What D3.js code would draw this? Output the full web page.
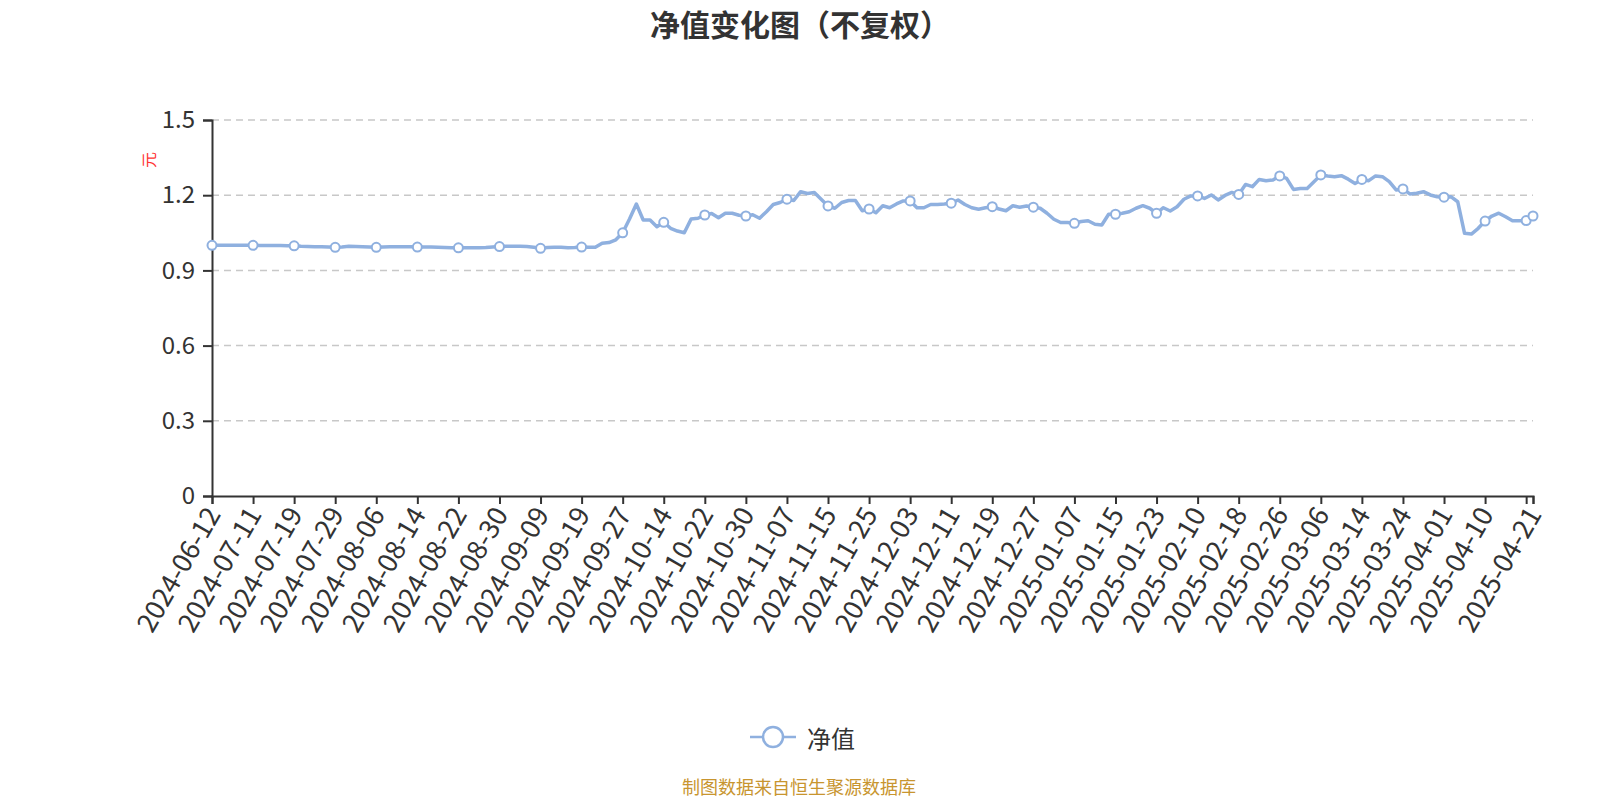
<!DOCTYPE html>
<html>
<head>
<meta charset="utf-8">
<script src="https://cdn.jsdelivr.net/npm/d3@7/dist/d3.min.js"></script>
<style>
  html, body { margin: 0; padding: 0; background: #fff; }
  svg { display: block; }
  text { font-family: "Noto Sans CJK SC", "Noto Sans", sans-serif; }
</style>
</head>
<body>
<svg id="chart" width="1600" height="800"></svg>
<script>
const dates = [
"2024-06-12","2024-06-14","2024-06-21","2024-06-28","2024-07-05","2024-07-10","2024-07-11","2024-07-12","2024-07-15","2024-07-16",
"2024-07-17","2024-07-18","2024-07-19","2024-07-22","2024-07-23","2024-07-24","2024-07-25","2024-07-26","2024-07-29","2024-07-30",
"2024-07-31","2024-08-01","2024-08-02","2024-08-05","2024-08-06","2024-08-07","2024-08-08","2024-08-09","2024-08-12","2024-08-13",
"2024-08-14","2024-08-15","2024-08-16","2024-08-19","2024-08-20","2024-08-21","2024-08-22","2024-08-23","2024-08-26","2024-08-27",
"2024-08-28","2024-08-29","2024-08-30","2024-09-02","2024-09-03","2024-09-04","2024-09-05","2024-09-06","2024-09-09","2024-09-10",
"2024-09-11","2024-09-12","2024-09-13","2024-09-18","2024-09-19","2024-09-20","2024-09-23","2024-09-24","2024-09-25","2024-09-26",
"2024-09-27","2024-09-30","2024-10-08","2024-10-09","2024-10-10","2024-10-11","2024-10-14","2024-10-15","2024-10-16","2024-10-17",
"2024-10-18","2024-10-21","2024-10-22","2024-10-23","2024-10-24","2024-10-25","2024-10-28","2024-10-29","2024-10-30","2024-10-31",
"2024-11-01","2024-11-04","2024-11-05","2024-11-06","2024-11-07","2024-11-08","2024-11-11","2024-11-12","2024-11-13","2024-11-14",
"2024-11-15","2024-11-18","2024-11-19","2024-11-20","2024-11-21","2024-11-22","2024-11-25","2024-11-26","2024-11-27","2024-11-28",
"2024-11-29","2024-12-02","2024-12-03","2024-12-04","2024-12-05","2024-12-06","2024-12-09","2024-12-10","2024-12-11","2024-12-12",
"2024-12-13","2024-12-16","2024-12-17","2024-12-18","2024-12-19","2024-12-20","2024-12-23","2024-12-24","2024-12-25","2024-12-26",
"2024-12-27","2024-12-30","2024-12-31","2025-01-02","2025-01-03","2025-01-06","2025-01-07","2025-01-08","2025-01-09","2025-01-10",
"2025-01-13","2025-01-14","2025-01-15","2025-01-16","2025-01-17","2025-01-20","2025-01-21","2025-01-22","2025-01-23","2025-01-24",
"2025-01-27","2025-02-05","2025-02-06","2025-02-07","2025-02-10","2025-02-11","2025-02-12","2025-02-13","2025-02-14","2025-02-17",
"2025-02-18","2025-02-19","2025-02-20","2025-02-21","2025-02-24","2025-02-25","2025-02-26","2025-02-27","2025-02-28","2025-03-03",
"2025-03-04","2025-03-05","2025-03-06","2025-03-07","2025-03-10","2025-03-11","2025-03-12","2025-03-13","2025-03-14","2025-03-17",
"2025-03-18","2025-03-19","2025-03-20","2025-03-21","2025-03-24","2025-03-25","2025-03-26","2025-03-27","2025-03-28","2025-03-31",
"2025-04-01","2025-04-02","2025-04-03","2025-04-07","2025-04-08","2025-04-09","2025-04-10","2025-04-11","2025-04-14","2025-04-15",
"2025-04-16","2025-04-17","2025-04-18","2025-04-21"
];

const nav = [
1.000,1.000,1.000,1.000,1.000,1.000,1.000,0.999,0.999,0.999,
0.999,0.998,0.998,0.996,0.995,0.994,0.994,0.993,0.992,0.993,
0.996,0.995,0.994,0.993,0.992,0.993,0.994,0.994,0.994,0.994,
0.993,0.993,0.993,0.992,0.991,0.990,0.990,0.990,0.990,0.990,
0.991,0.993,0.995,0.996,0.996,0.996,0.995,0.992,0.988,0.991,
0.992,0.992,0.990,0.991,0.993,0.992,0.992,1.008,1.011,1.022,
1.050,1.105,1.165,1.101,1.101,1.074,1.092,1.068,1.057,1.050,
1.105,1.108,1.121,1.127,1.110,1.128,1.128,1.120,1.117,1.122,
1.108,1.134,1.163,1.171,1.184,1.179,1.214,1.207,1.211,1.184,
1.157,1.148,1.171,1.179,1.179,1.138,1.145,1.130,1.158,1.150,
1.165,1.177,1.177,1.150,1.150,1.163,1.163,1.165,1.168,1.181,
1.163,1.150,1.144,1.150,1.154,1.145,1.138,1.158,1.152,1.157,
1.152,1.148,1.128,1.104,1.091,1.091,1.088,1.095,1.098,1.084,
1.081,1.124,1.124,1.128,1.134,1.148,1.158,1.148,1.128,1.150,
1.137,1.154,1.184,1.197,1.197,1.187,1.201,1.181,1.199,1.211,
1.203,1.243,1.234,1.263,1.258,1.261,1.277,1.267,1.223,1.227,
1.227,1.254,1.281,1.277,1.274,1.278,1.264,1.247,1.263,1.258,
1.277,1.274,1.254,1.221,1.225,1.205,1.208,1.214,1.201,1.194,
1.192,1.194,1.174,1.048,1.045,1.068,1.097,1.117,1.128,1.114,
1.098,1.098,1.099,1.117
];

const yTicks = [0, 0.3, 0.6, 0.9, 1.2, 1.5];
const yTickLabels = ["0", "0.3", "0.6", "0.9", "1.2", "1.5"];
const xLabelDates = [
"2024-06-12","2024-07-11","2024-07-19","2024-07-29","2024-08-06","2024-08-14","2024-08-22","2024-08-30","2024-09-09","2024-09-19",
"2024-09-27","2024-10-14","2024-10-22","2024-10-30","2024-11-07","2024-11-15","2024-11-25","2024-12-03","2024-12-11","2024-12-19",
"2024-12-27","2025-01-07","2025-01-15","2025-01-23","2025-02-10","2025-02-18","2025-02-26","2025-03-06","2025-03-14","2025-03-24",
"2025-04-01","2025-04-10","2025-04-21"
];
const symbolDates = xLabelDates.concat(["2025-04-18"]);
const tickDates = symbolDates;

const titleText = "净值变化图（不复权）";
const seriesName = "净值";
const unitText = "元";
const sourceText = "制图数据来自恒生聚源数据库";

const color = "#8fb0df";
const svg = d3.select("#chart");
const gLeft = 212, gRight = 1533, gTop = 120, gBottom = 496;

const x = d3.scalePoint().domain(dates).range([gLeft, gRight]);
const y = d3.scaleLinear().domain([0, 1.5]).range([gBottom, gTop]);

// title
svg.append("text").attr("x", 800).attr("y", 23)
  .attr("text-anchor", "middle").attr("dominant-baseline", "central")
  .attr("font-size", 30).attr("font-weight", "bold").attr("fill", "#333")
  .text(titleText);

// grid lines
svg.append("g").selectAll("line").data(yTicks.filter(d => d > 0)).join("line")
  .attr("x1", gLeft).attr("x2", gRight)
  .attr("y1", d => y(d)).attr("y2", d => y(d))
  .attr("stroke", "#c8c8c8").attr("stroke-width", 1.5).attr("stroke-dasharray", "7,5");

// y axis
const yAxis = d3.axisLeft(y).tickValues(yTicks)
  .tickFormat((d, i) => yTickLabels[i]).tickSize(9).tickPadding(8);
const gy = svg.append("g").attr("transform", `translate(${gLeft},0)`).call(yAxis);
gy.select(".domain").attr("stroke", "#333").attr("stroke-width", 2);
gy.selectAll(".tick line").attr("stroke", "#333").attr("stroke-width", 2);
gy.selectAll(".tick text").attr("font-size", 24).attr("fill", "#333")
  .attr("font-family", "'Noto Sans CJK SC', sans-serif");

// unit
svg.append("text").attr("transform", "translate(148,160) rotate(-90)")
  .attr("text-anchor", "middle").attr("dominant-baseline", "central")
  .attr("font-size", 16).attr("fill", "#f33").text(unitText);

// x axis
const xAxis = d3.axisBottom(x).tickValues(tickDates)
  .tickFormat(d => xLabelDates.includes(d) ? d : "").tickSize(8).tickPadding(4);
const gx = svg.append("g").attr("transform", `translate(0,${gBottom})`).call(xAxis);
gx.select(".domain").attr("stroke", "#333").attr("stroke-width", 2);
gx.selectAll(".tick line").attr("stroke", "#333").attr("stroke-width", 2);
gx.selectAll(".tick text").attr("font-size", 27).attr("fill", "#333")
  .attr("font-family", "'Noto Sans CJK SC', sans-serif")
  .attr("text-anchor", "end")
  .attr("dominant-baseline", "central")
  .attr("transform", "translate(1,9) rotate(-60)")
  .attr("dy", null).attr("y", 0).attr("x", -4);

// line
const line = d3.line().x((d, i) => x(dates[i])).y(d => y(d));
svg.append("path").datum(nav).attr("d", line)
  .attr("fill", "none").attr("stroke", color).attr("stroke-width", 3.5)
  .attr("stroke-linejoin", "round").attr("stroke-linecap", "round");

// symbols
const symIdx = dates.map((d, i) => i).filter(i => symbolDates.includes(dates[i]));
svg.append("g").selectAll("circle").data(symIdx).join("circle")
  .attr("cx", i => x(dates[i])).attr("cy", i => y(nav[i])).attr("r", 4.5)
  .attr("fill", "#fff").attr("stroke", color).attr("stroke-width", 2);

// legend
const lg = svg.append("g").attr("transform", "translate(773,737)");
lg.append("line").attr("x1", -23).attr("x2", 23).attr("y1", 0).attr("y2", 0)
  .attr("stroke", color).attr("stroke-width", 2.5);
lg.append("circle").attr("r", 10).attr("fill", "#fff").attr("stroke", color).attr("stroke-width", 2.5);
lg.append("text").attr("x", 34).attr("y", 0).attr("dominant-baseline", "central")
  .attr("font-size", 24).attr("fill", "#333").text(seriesName);

// source
svg.append("text").attr("x", 799).attr("y", 786)
  .attr("text-anchor", "middle").attr("dominant-baseline", "central")
  .attr("font-size", 18).attr("fill", "#c8952f").text(sourceText);
</script>
</body>
</html>
